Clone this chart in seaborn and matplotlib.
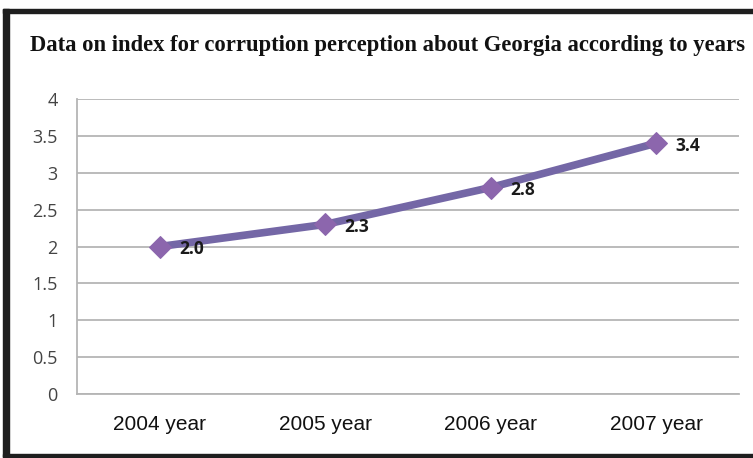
import matplotlib
matplotlib.use("Agg")
import matplotlib.pyplot as plt
import seaborn as sns
import pandas as pd
from matplotlib.patches import Rectangle

years = ["2004 year", "2005 year", "2006 year", "2007 year"]
values = [2.0, 2.3, 2.8, 3.4]
value_labels = ["2.0", "2.3", "2.8", "3.4"]
y_ticks = [0, 0.5, 1, 1.5, 2, 2.5, 3, 3.5, 4]
y_tick_labels = ["0", "0.5", "1", "1.5", "2", "2.5", "3", "3.5", "4"]
title = "Data on index for corruption perception about Georgia according to years"

sns.set_theme(style="white")
plt.rcParams['font.family'] = ['Open Sans', 'DejaVu Sans']

df = pd.DataFrame({"year": years, "value": values})

W, H = 753, 458
fig = plt.figure(figsize=(W / 100, H / 100), dpi=100)
fig.patch.set_facecolor("white")

# plot area in pixel coordinates
left, right, top, bottom = 77.25, 738.75, 99, 394
ax = fig.add_axes([left / W, 1 - bottom / H, (right - left) / W, (bottom - top) / H])

sns.lineplot(data=df, x="year", y="value", ax=ax, color="#7467a6", linewidth=5.5,
             marker="D", markersize=11, markerfacecolor="#8c66ad",
             markeredgecolor="#8c66ad", sort=False, zorder=3)

for i, (v, lab) in enumerate(zip(values, value_labels)):
    ax.annotate(lab, (i, v), xytext=(14, -2), textcoords="offset points",
                ha="left", va="center", fontsize=12.5, fontweight="bold",
                color="#1a1a1a", zorder=4)

ax.set_xlim(-0.5, len(years) - 0.5)
ax.set_ylim(0, 4)
ax.set_yticks(y_ticks)
ax.set_yticklabels(y_tick_labels)
ax.set_xlabel("")
ax.set_ylabel("")
ax.grid(axis="y", color="#b5b5b5", linewidth=1.3)
ax.set_axisbelow(True)
for s in ["top", "right"]:
    ax.spines[s].set_visible(False)
for s in ["left", "bottom"]:
    ax.spines[s].set_color("#b5b5b5")
    ax.spines[s].set_linewidth(1.3)
ax.tick_params(axis="y", length=0, pad=14, labelsize=13, labelcolor="#444444")
ax.tick_params(axis="x", length=0, pad=15, labelsize=15, labelcolor="#111111")
for t in ax.get_xticklabels():
    t.set_family(["Liberation Sans", "DejaVu Sans"])

fig.text(30 / W, 1 - 45 / H, title, ha="left", va="center",
         fontsize=16.3, fontweight="bold", family=["Liberation Serif", "DejaVu Serif"],
         color="#111111")

# frame border
fig.patches.append(Rectangle((3 / W, 1 - 457 / H), 6 / W, (457 - 9) / H,
                             transform=fig.transFigure, color="#1e1e1e", zorder=10))
fig.patches.append(Rectangle((3 / W, 1 - 13 / H), (W - 3) / W, 4 / H,
                             transform=fig.transFigure, color="#1e1e1e", zorder=10))
fig.patches.append(Rectangle((3 / W, 1 - 457 / H), (W - 3) / W, 3 / H,
                             transform=fig.transFigure, color="#1e1e1e", zorder=10))

fig.savefig("out.png", dpi=100)
